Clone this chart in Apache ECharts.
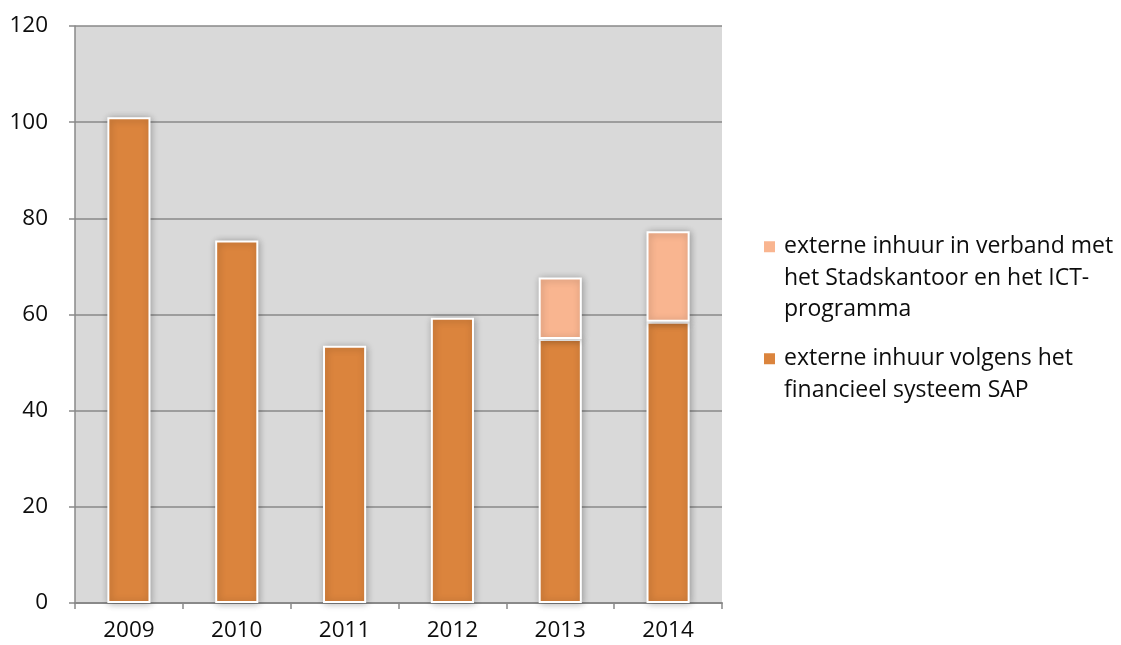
<!DOCTYPE html>
<html>
<head>
<meta charset="utf-8">
<script src="https://cdn.jsdelivr.net/npm/echarts@6/dist/echarts.min.js"></script>
<style>
  html, body { margin: 0; padding: 0; background: #ffffff; }
  #chart { width: 1121px; height: 645px; }
</style>
</head>
<body>
<div id="chart"></div>
<script>
// Jaren op de horizontale as
const years = ['2009', '2010', '2011', '2012', '2013', '2014'];

// Externe inhuur volgens het financieel systeem SAP
const sapValues = [101, 75.4, 53.5, 59.3, 54.9, 58.5];

// Externe inhuur in verband met het Stadskantoor en het ICT-programma
const ictValues = [null, null, null, null, 12.8, 18.8];

// Waarden op de verticale as
const yTicks = [0, 20, 40, 60, 80, 100, 120];

const nameSap = 'externe inhuur volgens het financieel systeem SAP';
const nameIct = 'externe inhuur in verband met het Stadskantoor en het ICT-programma';

const font = '"Open Sans", "Liberation Sans", sans-serif';
const gridColor = '#898989';
const textColor = '#0d0d0d';

const barStyle = (color) => ({
  color: color,
  borderColor: '#ffffff',
  borderWidth: 2,
  shadowColor: 'rgba(0,0,0,0.3)',
  shadowBlur: 7,
  shadowOffsetX: 1,
  shadowOffsetY: 1
});

// Leading blank lines keep the legend marker level with the first text line
const legendText = {
  [nameIct]: '\n\nexterne inhuur in verband met\nhet Stadskantoor en het ICT-\nprogramma',
  [nameSap]: '\nexterne inhuur volgens het\nfinancieel systeem SAP'
};

const legendBase = {
  orient: 'vertical',
  left: 757,
  icon: 'rect',
  itemWidth: 13,
  itemHeight: 13,
  itemGap: 0,
  selectedMode: false,
  formatter: (n) => legendText[n],
  textStyle: {
    fontFamily: font,
    fontSize: 23,
    lineHeight: 31.5,
    color: textColor,
    padding: [0, 0, 0, 3]
  }
};

const chart = echarts.init(document.getElementById('chart'), null, { renderer: 'canvas' });

chart.setOption({
  animation: false,
  backgroundColor: '#ffffff',
  legend: [
    Object.assign({}, legendBase, { top: 163, data: [nameIct] }),
    Object.assign({}, legendBase, { top: 306.5, data: [nameSap] })
  ],
  grid: {
    left: 75,
    right: 399,
    top: 26,
    bottom: 42,
    show: true,
    backgroundColor: '#d9d9d9',
    borderWidth: 0
  },
  xAxis: {
    type: 'category',
    data: years,
    boundaryGap: true,
    axisLine: { show: true, lineStyle: { color: gridColor, width: 2 } },
    axisTick: { show: true, alignWithLabel: false, length: 6, lineStyle: { color: gridColor, width: 1.5 } },
    axisLabel: { fontFamily: font, fontSize: 22.5, color: textColor, margin: 16 },
    splitLine: { show: false }
  },
  yAxis: {
    type: 'value',
    min: yTicks[0],
    max: yTicks[yTicks.length - 1],
    interval: yTicks[1] - yTicks[0],
    axisLine: { show: true, lineStyle: { color: gridColor, width: 1.5 } },
    axisTick: { show: true, inside: false, length: 6, lineStyle: { color: gridColor, width: 1.5 } },
    axisLabel: { fontFamily: font, fontSize: 22.5, color: textColor, margin: 27 },
    splitLine: { show: true, lineStyle: { color: gridColor, width: 1.5 } }
  },
  series: [
    {
      name: nameSap,
      type: 'bar',
      stack: 'inhuur',
      barWidth: '40%',
      data: sapValues,
      itemStyle: barStyle('#db843d')
    },
    {
      name: nameIct,
      type: 'bar',
      stack: 'inhuur',
      barWidth: '40%',
      data: ictValues,
      itemStyle: barStyle('#f9b590')
    }
  ]
});
</script>
</body>
</html>
